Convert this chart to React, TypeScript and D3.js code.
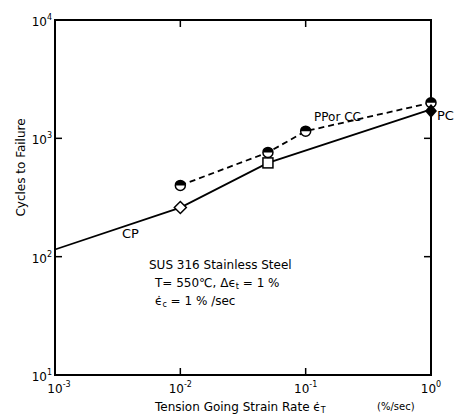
import React from "react";
import * as d3 from "d3";

// strain rate (%/sec) vs cycles to failure
const cpRate = [0.001, 0.01, 0.05, 1];
const cpCycles = [115, 260, 620, 1760];
const cpMarks = ["none", "diamond", "square", "none"];

const ppRate = [0.01, 0.05, 0.1, 1];
const ppCycles = [400, 760, 1150, 2000];

const pcRate = [1];
const pcCycles = [1700];

const xTickExp = [-3, -2, -1, 0];
const yTickExp = [1, 2, 3, 4];

const W = 464, H = 418;
const M = { left: 55, right: 431, top: 20, bottom: 375 };
const FONT = "'DejaVu Sans', sans-serif";

export default function App() {
  const x = d3.scaleLog().domain([1e-3, 1]).range([M.left, M.right]);
  const y = d3.scaleLog().domain([10, 1e4]).range([M.bottom, M.top]);

  const line = d3
    .line<[number, number]>()
    .x((d) => x(d[0]))
    .y((d) => y(d[1]));

  const cpPts = cpRate.map((r, i) => [r, cpCycles[i]] as [number, number]);
  const ppPts = ppRate.map((r, i) => [r, ppCycles[i]] as [number, number]);

  const tick = 7;

  const pow = (e: number, px: number, py: number, anchor: string) => (
    <text x={px} y={py} textAnchor={anchor} fontSize={12} fontFamily={FONT}>
      10
      <tspan dy={-6} fontSize={8}>{e}</tspan>
    </text>
  );

  // half filled circle (top half black)
  const halfCircle = (cx: number, cy: number, r: number) => (
    <g>
      <circle cx={cx} cy={cy} r={r} fill="white" stroke="black" strokeWidth={1.5} />
      <path
        d={`M${cx - r},${cy} A${r},${r} 0 0 1 ${cx + r},${cy} Z`}
        fill="black"
      />
    </g>
  );

  return (
    <svg width={W} height={H} style={{ position: "absolute", left: 0, top: 0, background: "white" }}>
      {/* frame */}
      <rect
        x={M.left}
        y={M.top}
        width={M.right - M.left}
        height={M.bottom - M.top}
        fill="none"
        stroke="black"
        strokeWidth={2}
      />
      {/* inward ticks */}
      {xTickExp.slice(1, -1).map((e) => (
        <g key={"xt" + e}>
          <line x1={x(10 ** e)} x2={x(10 ** e)} y1={M.bottom} y2={M.bottom - tick} stroke="black" strokeWidth={1.5} />
          <line x1={x(10 ** e)} x2={x(10 ** e)} y1={M.top} y2={M.top + tick} stroke="black" strokeWidth={1.5} />
        </g>
      ))}
      {yTickExp.slice(1, -1).map((e) => (
        <g key={"yt" + e}>
          <line x1={M.left} x2={M.left + tick} y1={y(10 ** e)} y2={y(10 ** e)} stroke="black" strokeWidth={1.5} />
          <line x1={M.right} x2={M.right - tick} y1={y(10 ** e)} y2={y(10 ** e)} stroke="black" strokeWidth={1.5} />
        </g>
      ))}
      {/* tick labels */}
      {xTickExp.map((e) => (
        <g key={"xl" + e}>{pow(e, x(10 ** e) + (e === -3 ? 4 : 0), M.bottom + 18, "middle")}</g>
      ))}
      {yTickExp.map((e) => (
        <g key={"yl" + e}>{pow(e, M.left - 3, y(10 ** e) + 6, "end")}</g>
      ))}

      {/* CP solid */}
      <path d={line(cpPts) || ""} fill="none" stroke="black" strokeWidth={1.8} />
      {/* PP or CC dashed */}
      <path d={line(ppPts) || ""} fill="none" stroke="black" strokeWidth={1.8} strokeDasharray="6,4" />

      {cpPts.map((p, i) => {
        const cx = x(p[0]), cy = y(p[1]);
        if (cpMarks[i] === "diamond")
          return (
            <path key={"cp" + i} d={`M${cx},${cy - 6}L${cx + 6},${cy}L${cx},${cy + 6}L${cx - 6},${cy}Z`} fill="white" stroke="black" strokeWidth={1.5} />
          );
        if (cpMarks[i] === "square")
          return <rect key={"cp" + i} x={cx - 5} y={cy - 5} width={10} height={10} fill="white" stroke="black" strokeWidth={1.5} />;
        return null;
      })}
      {ppPts.map((p, i) => (
        <g key={"pp" + i}>{halfCircle(x(p[0]), y(p[1]), 5)}</g>
      ))}
      {pcRate.map((r, i) => {
        const cx = x(r), cy = y(pcCycles[i]);
        return <path key={"pc" + i} d={`M${cx},${cy - 7}L${cx + 6},${cy}L${cx},${cy + 7}L${cx - 6},${cy}Z`} fill="black" />;
      })}

      {/* series labels */}
      <text x={122} y={238} fontSize={13} fontFamily={FONT}>CP</text>
      <text x={314} y={121} fontSize={12} fontFamily={FONT}>PPor CC</text>
      <text x={437} y={120} fontSize={13} fontFamily={FONT}>PC</text>

      {/* annotation */}
      <text x={149} y={269} fontSize={12} fontFamily={FONT}>SUS 316 Stainless Steel</text>
      <text x={155} y={287} fontSize={12} fontFamily={FONT}>T= 550℃, Δϵ<tspan fontSize={8} dy={2}>t</tspan><tspan dy={-2}> = 1 %</tspan></text>
      <text x={155} y={305} fontSize={12} fontFamily={FONT}>ϵ̇<tspan fontSize={8} dy={2}>c</tspan><tspan dy={-2}>  = 1 % /sec</tspan></text>

      {/* axis titles */}
      <text
        transform={`translate(25,${(M.top + M.bottom) / 2 - 30}) rotate(-90)`}
        textAnchor="middle"
        fontSize={12}
        fontFamily={FONT}
      >
        Cycles to Failure
      </text>
      <text x={155} y={411} fontSize={12} fontFamily={FONT}>
        Tension Going Strain Rate ϵ̇<tspan fontSize={8} dy={2}>T</tspan>
      </text>
      <text x={377} y={410} fontSize={10} fontFamily={FONT}>(%/sec)</text>
    </svg>
  );
}
